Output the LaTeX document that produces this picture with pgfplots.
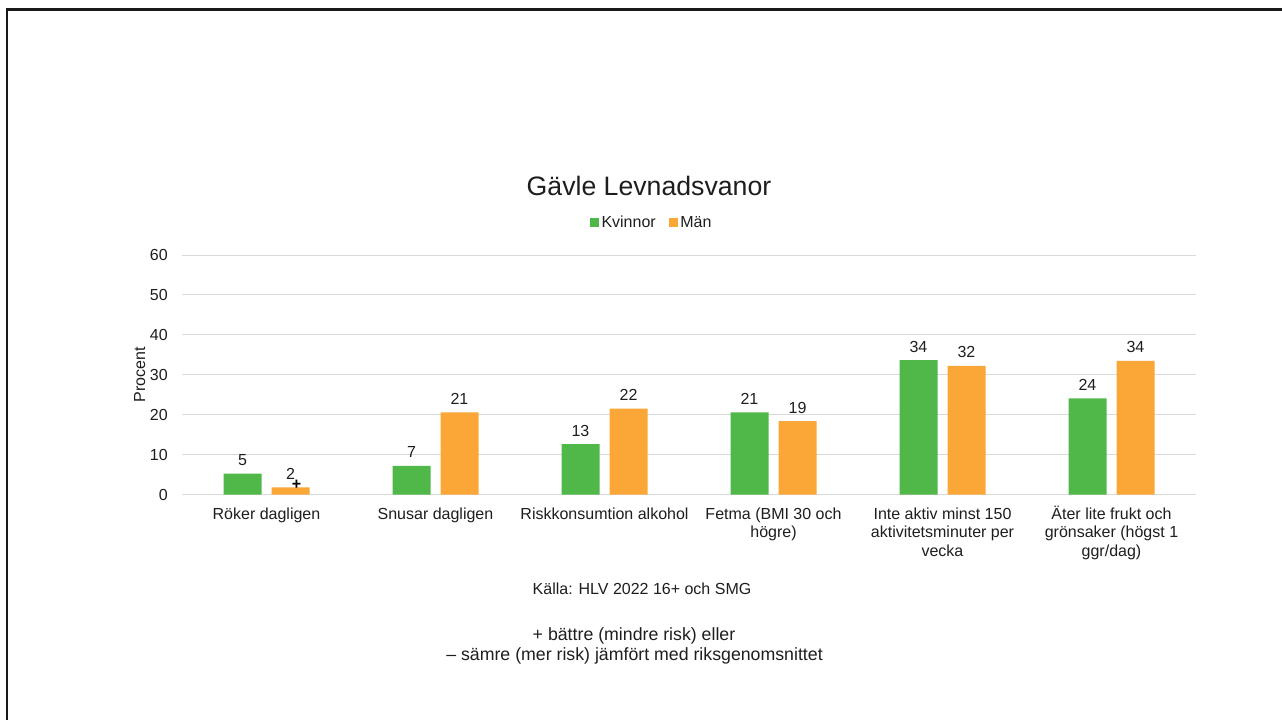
\documentclass[border=0pt]{standalone}
\usepackage{pgfplots}
\pgfplotsset{compat=1.18}
\usepackage{pgfplotstable}
\usepackage{fontspec}
\setmainfont{Liberation Sans}

\definecolor{kvgreen}{RGB}{80,184,72}
\definecolor{manorange}{RGB}{250,167,56}
\definecolor{gridgray}{RGB}{217,217,217}
\definecolor{txt}{RGB}{30,30,30}

% kategori, kvinnor, män, etiketter
\pgfplotstableread{
x kv man lkv lman
0 5.2 1.8 5 2
1 7.2 20.6 7 21
2 12.6 21.5 13 22
3 20.6 18.4 21 19
4 33.7 32.2 34 32
5 24.1 33.5 24 34
}\data

\newcommand{\st}{\rule{0pt}{10pt}}

\begin{document}
\begin{tikzpicture}[x=0.75pt,y=-0.75pt]
\useasboundingbox (0,0) rectangle (1282,720);
\fill[white] (0,0) rectangle (1282,720);
% ram
\draw[line width=2.25pt,black!90] (5.5,9.5) -- (1282,9.5);
\draw[line width=1.9pt,black!90] (7,8.5) -- (7,720);

\begin{axis}[
    at={(136.5pt,-370.875pt)}, anchor=south west,
    scale only axis,
    width=760.5pt, height=179.6pt,
    xmin=-0.5, xmax=5.5,
    ymin=0, ymax=60,
    ytick={0,10,...,60},
    xtick={0,...,5},
    xticklabels={
        {\st Röker dagligen},
        {\st Snusar dagligen},
        {\st Riskkonsumtion alkohol},
        {\st Fetma (BMI 30 och\\högre)},
        {\st Inte aktiv minst 150\\aktivitetsminuter per\\vecka},
        {\st Äter lite frukt och\\grönsaker (högst 1\\ggr/dag)}},
    axis line style={draw=none},
    major tick length=0pt,
    ymajorgrids,
    grid style={gridgray, line width=0.75pt},
    /pgf/number format/assume math mode=true,
    xticklabel style={font=\fontsize{12}{13.9}\selectfont, align=center,
        anchor=north, inner sep=0pt, yshift=-8.4pt, text=txt},
    yticklabel style={font=\fontsize{12}{14}\selectfont, anchor=east,
        inner sep=0pt, xshift=-10.5pt, text=txt},
    ybar, bar width=28.5pt,
    point meta=explicit symbolic,
    nodes near coords,
    nodes near coords style={font=\fontsize{12}{14}\selectfont, anchor=base,
        inner sep=0pt, yshift=6pt, text=txt},
    clip=false,
    legend columns=2,
    legend style={draw=none, fill=none, at={(axis description cs:0.4635,1.135)},
        anchor=center, font=\fontsize{12}{14}\selectfont, text=txt,
        /tikz/every even column/.append style={column sep=8.5pt},
        nodes={inner sep=1.6pt}},
]
\addplot[fill=kvgreen, draw=none, bar shift=-18pt,
    legend image code/.code={\fill[kvgreen] (0pt,-3.4pt) rectangle (6.75pt,3.4pt);}]
    table[x=x, y=kv, meta=lkv] {\data};
\addlegendentry{Kvinnor}
\addplot[fill=manorange, draw=none, bar shift=18pt,
    legend image code/.code={\fill[manorange] (0pt,-3.4pt) rectangle (6.75pt,3.4pt);}]
    table[x=x, y=man, meta=lman] {\data};
\addlegendentry{Män}
\node[font=\bfseries\fontsize{12}{14}\selectfont, text=black, inner sep=0pt]
    at (axis cs:0.178,2.5) {+};
\end{axis}

\node[anchor=base, font=\fontsize{20}{24}\selectfont, text=txt] at (649,195.5) {Gävle Levnadsvanor};
\node[anchor=base, rotate=90, font=\fontsize{12}{14}\selectfont, text=txt] at (145,374.5) {Procent};
\node[anchor=base, font=\fontsize{12}{14}\selectfont, text=txt] at (642,594.3) {Källa: HLV 2022 16+ och SMG};
\node[anchor=base, font=\fontsize{13.3}{16}\selectfont, text=txt] at (634,640.5) {+ bättre (mindre risk) eller};
\node[anchor=base, font=\fontsize{13.3}{16}\selectfont, text=txt] at (634.5,660.5) {– sämre (mer risk) jämfört med riksgenomsnittet};
\end{tikzpicture}
\end{document}
